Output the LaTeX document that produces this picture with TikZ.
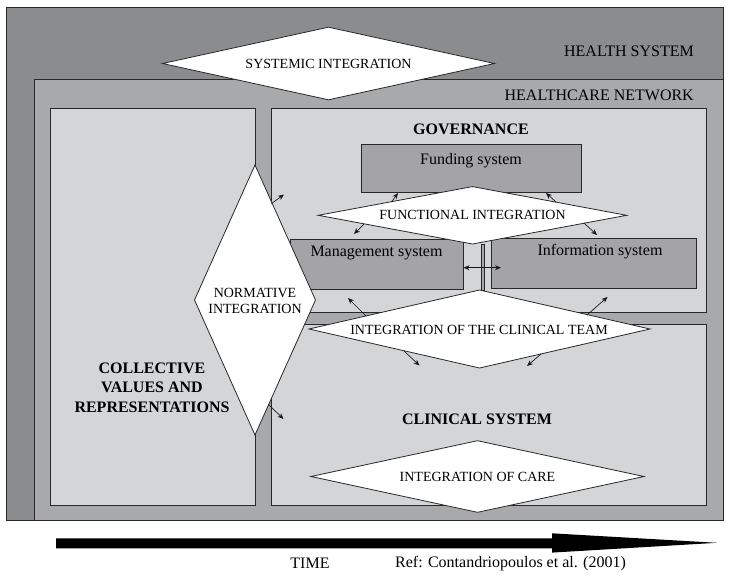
\documentclass[tikz,border=0pt]{standalone}
\usepackage{fontspec}
\setmainfont{Liberation Serif}
\usetikzlibrary{arrows.meta}
\definecolor{hsys}{RGB}{139,140,142}
\definecolor{hnet}{RGB}{168,169,171}
\definecolor{hlight}{RGB}{212,213,215}
\definecolor{hsub}{RGB}{164,164,167}
\definecolor{hline}{RGB}{40,40,42}
\newcommand{\mydiam}[5]{%
  \draw[dia] (#2-#4,#3) -- (#2,#3-#5) -- (#2+#4,#3) -- (#2,#3+#5) -- cycle;
  \coordinate (#1) at (#2,#3);}
\begin{document}
\begin{tikzpicture}[x=1pt,y=-1pt,
  box/.style={draw=hline,line width=0.8pt,inner sep=0pt,anchor=north west},
  dia/.style={draw=hline,fill=white,line width=0.8pt,line join=miter},
  lbl/.style={font=\fontsize{14}{16}\selectfont,inner sep=0pt,align=center},
  big/.style={font=\fontsize{16}{19.5}\selectfont,inner sep=0pt,align=center},
  bigb/.style={font=\fontsize{16}{19.5}\selectfont\bfseries,inner sep=0pt,align=center},
  arr/.style={-{Stealth[length=6pt,width=5pt]},line width=0.7pt,draw=black!90},
  darr/.style={{Stealth[length=6pt,width=5pt]}-{Stealth[length=6pt,width=5pt]},line width=0.7pt,draw=black!90},
]
\useasboundingbox (0,0) rectangle (729,576);
\fill[white] (0,0) rectangle (729,576);

% containers
\node[box,fill=hsys,minimum width=717.5pt,minimum height=513.5pt] (hs) at (5.5,6.5) {};
\node[box,fill=hnet,minimum width=689pt,minimum height=441.5pt] (net) at (34,78.5) {};
\node[box,fill=hlight,minimum width=205pt,minimum height=397pt] (coll) at (49.8,108) {};
\node[box,fill=hlight,minimum width=435pt,minimum height=203.3pt] (gov) at (271,108.3) {};
\node[box,fill=hlight,minimum width=435pt,minimum height=181pt] (clin) at (271,324) {};

% subsystems
\node[box,fill=hsub,minimum width=220.2pt,minimum height=47.4pt] (fund) at (360.8,144.3) {};
\node[box,fill=hsub,minimum width=172.7pt,minimum height=50.2pt] (mgmt) at (290,238.8) {};
\node[box,fill=hsub,minimum width=204.7pt,minimum height=50.5pt] (info) at (491,237.8) {};
\node[box,fill=hnet,line width=0.6pt,minimum width=2.6pt,minimum height=46pt] (strip) at (481.2,244) {};

% double arrow between management and information
\coordinate (da1) at (463.5,267.7);
\coordinate (da2) at (501,267.7);
\draw[darr] (da1) -- (da2);

% diamonds
\mydiam{sys}{328.5}{63.5}{166}{36.3}
\mydiam{func}{472.5}{215.3}{154.2}{28.7}
\mydiam{team}{479.5}{329}{170.5}{39}
\mydiam{care}{477.5}{476.5}{166.5}{35.8}
\mydiam{norm}{255}{300}{60.5}{135}

% small arrows
\coordinate (a1s) at (271.5,203.5); \coordinate (a1e) at (284,194.5);
\coordinate (a2s) at (391.5,202); \coordinate (a2e) at (398,193);
\coordinate (a3s) at (556,202); \coordinate (a3e) at (546,193);
\coordinate (a4s) at (364,224); \coordinate (a4e) at (354,234);
\coordinate (a5s) at (584,223); \coordinate (a5e) at (597,235);
\coordinate (a6s) at (366,316); \coordinate (a6e) at (348,298);
\coordinate (a7s) at (587,315); \coordinate (a7e) at (607.5,297);
\coordinate (a8s) at (404,351); \coordinate (a8e) at (419.5,365.5);
\coordinate (a9s) at (541,354); \coordinate (a9e) at (527,366);
\coordinate (a10s) at (268.5,404.5); \coordinate (a10e) at (283.5,419);
\foreach \i in {1,...,10} {\draw[arr] (a\i s) -- (a\i e);}

% texts
\node[big,anchor=east] (thsys) at (694,51.7) {HEALTH SYSTEM};
\node[big,anchor=east] (thnet) at (694,95) {HEALTHCARE NETWORK};
\node[lbl] (tsys) at (sys) {SYSTEMIC INTEGRATION};
\node[bigb] (tgov) at (471,129) {GOVERNANCE};
\node[big] (tfund) at (471,160.7) {Funding system};
\node[lbl] (tfunc) at (func) {FUNCTIONAL INTEGRATION};
\node[big] (tmgmt) at (376.5,252.7) {Management system};
\node[big] (tinfo) at (600,251.7) {Information system};
\node[lbl,font=\fontsize{14}{16}\selectfont] (tnorm) at (255,301.3) {NORMATIVE\\INTEGRATION};
\node[lbl] (tteam) at (479,330) {INTEGRATION OF THE CLINICAL TEAM};
\node[bigb] (tcoll) at (152,387.3) {COLLECTIVE\\VALUES AND\\REPRESENTATIONS};
\node[bigb] (tclin) at (477,419.3) {CLINICAL SYSTEM};
\node[lbl] (tcare) at (care) {INTEGRATION OF CARE};

% time arrow
\fill[black] (56,538.3) -- (552,538.3) -- (552,533.3) -- (717,542.8) -- (552,552.6) -- (552,548.3) -- (56,548.3) -- cycle;
\node[big] (ttime) at (310,563.3) {TIME};
\node[big] (tref) at (510.5,563.3) {Ref: Contandriopoulos et al. (2001)};
\end{tikzpicture}
\end{document}
